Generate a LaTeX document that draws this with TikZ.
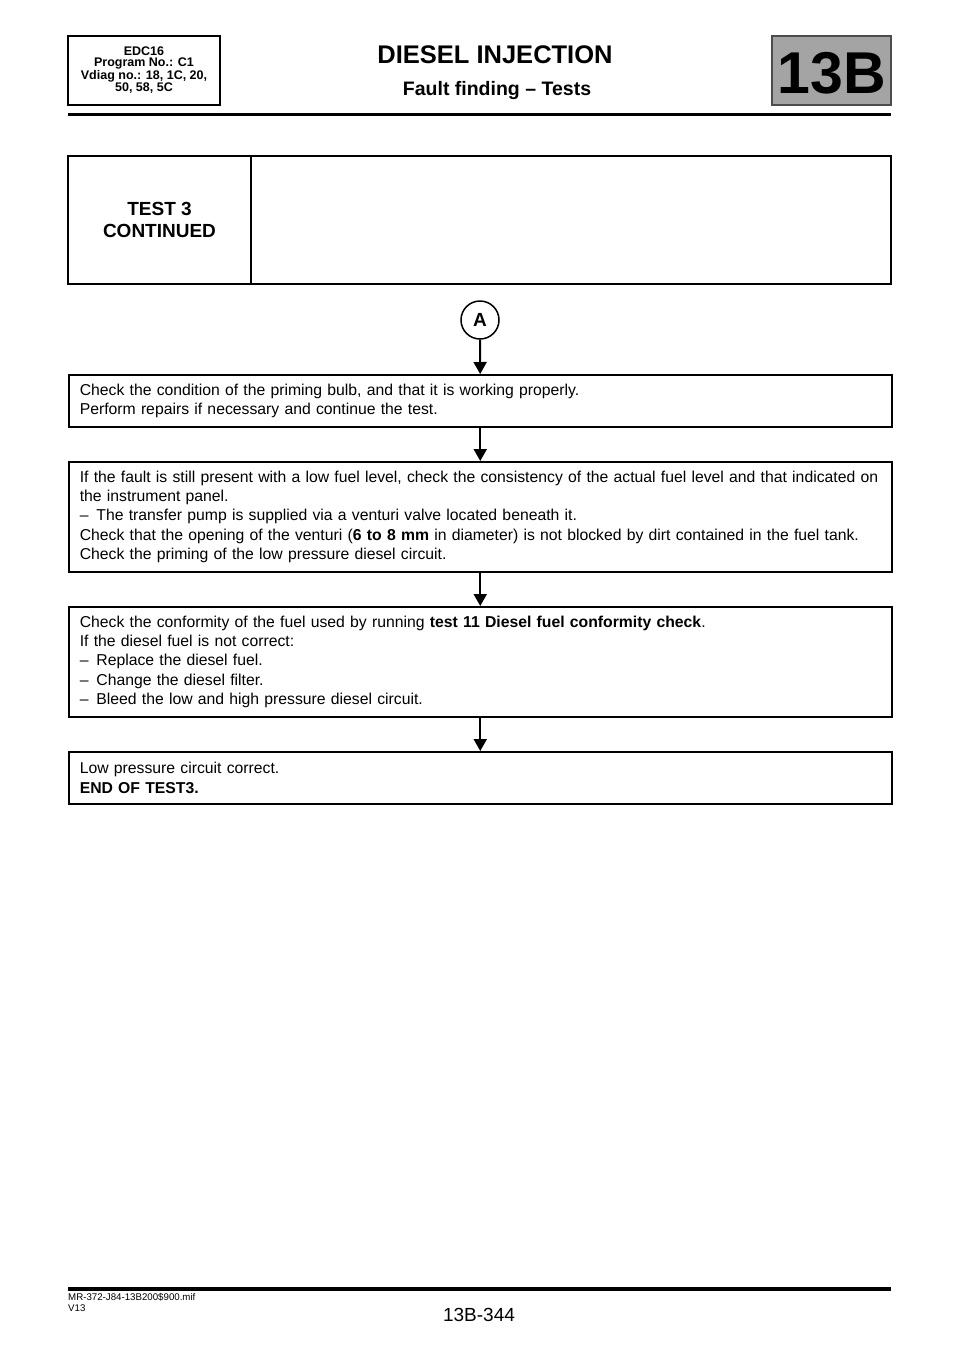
\documentclass[tikz,border=0pt]{standalone}
\usepackage{fontspec}
\setmainfont{Liberation Sans}
\usetikzlibrary{arrows.meta}
\definecolor{tabgrey}{RGB}{164,164,164}
\tikzset{
 chkbox/.style={draw, line width=1.5pt, anchor=north west, minimum width=823pt,
   text width=801pt, inner xsep=11pt, inner ysep=0pt, align=left,
   font=\fontsize{15.75}{19.3}\selectfont},
 hdrbox/.style={draw, line width=1.5pt, anchor=north west, inner sep=0pt, outer sep=0pt, align=center},
 flowarr/.style={line width=2pt, -{Triangle[width=13pt,length=12pt]}},
 rulebar/.style={line width=3.5pt},
}
\begin{document}
\begin{tikzpicture}[x=1pt, y=-1pt, line join=miter]
 \useasboundingbox (0,0) rectangle (960,1358);
 % header
 \node[hdrbox, minimum width=152pt, minimum height=69pt,
   font=\bfseries\fontsize{12.5}{11}\selectfont] (ecu) at (68,36)
   {EDC16\\Program No.: C1\\Vdiag no.: 18, 1C, 20,\\50, 58, 5C};
 \node[anchor=base, font=\bfseries\fontsize{25.5}{30}\selectfont] (ttl) at (495,63) {DIESEL INJECTION};
 \node[anchor=base, font=\bfseries\fontsize{19.5}{24}\selectfont] (sub) at (497,95) {Fault finding -- Tests};
 \node[hdrbox, fill=tabgrey, draw=black!70, minimum width=119pt, minimum height=69pt] (tab) at (772,36) {};
 \node[anchor=base, font=\bfseries\fontsize{59}{64}\selectfont] (tabtxt) at (832,93) {13B};
 \draw[rulebar] (68,114.5) -- (891,114.5);
 % test title block
 \node[hdrbox, minimum width=183pt, minimum height=128pt,
   font=\bfseries\fontsize{19}{22}\selectfont] (tst) at (68,156) {TEST 3\\CONTINUED};
 \node[hdrbox, minimum width=640pt, minimum height=128pt] (tstR) at (tst.north east) {};
 % flow
 \node[draw, circle, line width=1.5pt, minimum size=38pt, inner sep=0pt,
   font=\bfseries\fontsize{19}{22}\selectfont] (circA) at (480,320) {A};
 \node[chkbox, minimum height=52pt] (bulb) at (68,374)
   {Check the condition of the priming bulb, and that it is working properly.\\
    Perform repairs if necessary and continue the test.};
 \node[chkbox, minimum height=110pt] (level) at (68,461)
   {If the fault is still present with a low fuel level, check the consistency of the actual fuel level and that indicated on\\
    the instrument panel.\\
    --\enspace The transfer pump is supplied via a venturi valve located beneath it.\\
    Check that the opening of the venturi (\textbf{6 to 8 mm} in diameter) is not blocked by dirt contained in the fuel tank.\\
    Check the priming of the low pressure diesel circuit.};
 \node[chkbox, minimum height=110pt] (conf) at (68,606)
   {Check the conformity of the fuel used by running \textbf{test 11 Diesel fuel conformity check}.\\
    If the diesel fuel is not correct:\\
    --\enspace Replace the diesel fuel.\\
    --\enspace Change the diesel filter.\\
    --\enspace Bleed the low and high pressure diesel circuit.};
 \node[chkbox, minimum height=52pt] (lpok) at (68,751)
   {Low pressure circuit correct.\\
    \textbf{END OF TEST3.}};
 \draw[flowarr] (circA) -- (bulb);
 \draw[flowarr] (bulb) -- (level);
 \draw[flowarr] (level) -- (conf);
 \draw[flowarr] (conf) -- (lpok);
 % footer
 \draw[rulebar] (68,1289) -- (891,1289);
 \node[anchor=north west, inner sep=0pt, align=left, font=\fontsize{9.7}{10.5}\selectfont] (ref) at (68,1293.5)
   {MR-372-J84-13B200\$900.mif\\V13};
 \node[anchor=base, font=\fontsize{19}{22}\selectfont] (pg) at (479,1321) {13B-344};
\end{tikzpicture}
\end{document}
